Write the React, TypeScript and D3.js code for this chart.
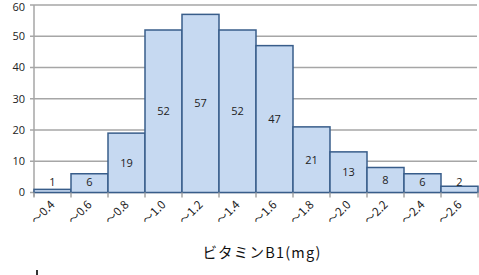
import React from 'react';
import * as d3 from 'd3';

const categories = ['～0.4', '～0.6', '～0.8', '～1.0', '～1.2', '～1.4', '～1.6', '～1.8', '～2.0', '～2.2', '～2.4', '～2.6'];
const values = [1, 6, 19, 52, 57, 52, 47, 21, 13, 8, 6, 2];
const yTicks = [0, 10, 20, 30, 40, 50, 60];
const xTitle = 'ビタミンB1(mg)';

const W = 479;
const H = 275;
const margin = { top: 5, right: 1, bottom: 82, left: 34 };
const font = '"Open Sans", "Liberation Sans", sans-serif';
const jpFont = '"Noto Sans CJK JP", sans-serif';

const App = () => {
    const x = d3.scaleBand<string>()
        .domain(categories)
        .range([margin.left, W - margin.right])
        .paddingInner(0)
        .paddingOuter(0);
    const y = d3.scaleLinear()
        .domain([0, 60])
        .range([H - margin.bottom - 0.5, margin.top]);

    const bw = x.bandwidth();
    const y0 = y(0);

    return (
        <svg width={W} height={H} style={{ position: 'absolute', left: 0, top: 0, background: '#fff' }}>
            {/* grid */}
            {yTicks.map(t => (
                <g key={t}>
                    <line x1={margin.left - 4} x2={W - 2} y1={y(t)} y2={y(t)} stroke="#a6a6a6" strokeWidth={1.5} />
                    <text x={25} y={Math.max(y(t), 7)} dy="0.35em" textAnchor="end" fontFamily={font} fontSize={11} fill="#222">{t}</text>
                </g>
            ))}
            <line x1={margin.left} x2={margin.left} y1={y(60)} y2={y0 + 4} stroke="#a6a6a6" strokeWidth={1.5} />

            {/* bars */}
            {categories.map((c, i) => (
                <rect key={c} x={x(c)!} y={y(values[i])} width={bw} height={y0 - y(values[i])}
                    fill="#c6d9f1" stroke="#385d8a" strokeWidth={1.5} />
            ))}

            {/* x ticks */}
            {d3.range(categories.length + 1).map(i => {
                const xx = margin.left + i * bw;
                return <line key={i} x1={xx} x2={xx} y1={y0} y2={y0 + 5} stroke="#a6a6a6" strokeWidth={1.5} />;
            })}

            {/* data labels */}
            {categories.map((c, i) => {
                const cy = Math.min((y(values[i]) + y0) / 2, 182);
                return (
                    <text key={c} x={x(c)! + bw / 2} y={cy} dy="0.35em" textAnchor="middle"
                        fontFamily={font} fontSize={11} fill="#222">{values[i]}</text>
                );
            })}

            {/* category labels */}
            {categories.map(c => {
                const cx = x(c)! + bw / 2 + 3;
                const cy = y0 + 13;
                return (
                    <text key={c} transform={`translate(${cx},${cy}) rotate(-45)`} textAnchor="end"
                        fontFamily={jpFont} fontSize={11.5} fill="#222">{c}</text>
                );
            })}

            <text x={262} y={258} textAnchor="middle" fontFamily={jpFont} fontSize={14.5} letterSpacing={1.2} fill="#111">{xTitle}</text>

            <rect x={36} y={270} width={2} height={5} fill="#333" />
        </svg>
    );
};

export default App;
